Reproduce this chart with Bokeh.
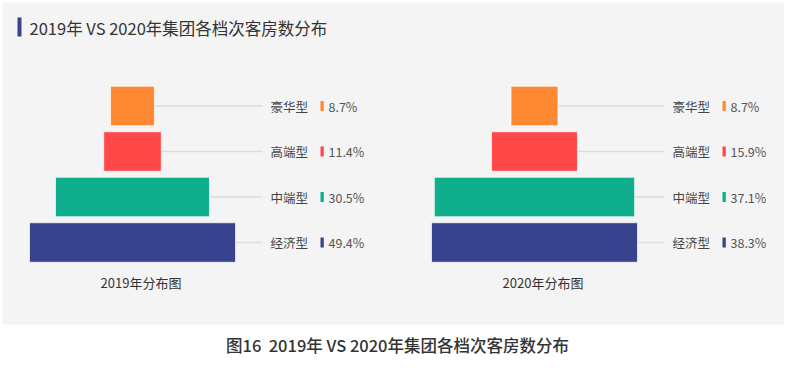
from bokeh.plotting import figure
from bokeh.models import Range1d
from bokeh.core.properties import value
from bokeh.embed import file_html
from bokeh.resources import INLINE

# ---- data ----
categories = ["豪华型", "高端型", "中端型", "经济型"]
share_2019 = [8.7, 11.4, 30.5, 49.4]
share_2020 = [8.7, 15.9, 37.1, 38.3]
colors = ["#FF8832", "#FF4848", "#0FAF8D", "#39428C"]
panel_titles = ["2019年分布图", "2020年分布图"]
chart_title = "2019年 VS 2020年集团各档次客房数分布"
caption = "图16\u00a0 2019年 VS 2020年集团各档次客房数分布"

FONT = value("Noto Sans CJK SC")
FONT_MED = value("Noto Sans CJK SC Medium, Noto Sans CJK SC")

W, H = 784, 358
p = figure(width=W, height=H, output_backend="svg", toolbar_location=None,
           x_range=Range1d(0, W), y_range=Range1d(H, 0),
           min_border=0, x_axis_location=None, y_axis_location=None)
p.grid.visible = False
p.outline_line_color = None
p.background_fill_color = "white"
p.border_fill_color = "white"

# grey panel
p.quad(left=2, right=798, top=2, bottom=324, fill_color="#f4f4f4", line_color=None)

# title
p.quad(left=17, right=21, top=17, bottom=36, fill_color="#39428C", line_color=None)
p.text(x=[29], y=[27], text=[chart_title], text_font=FONT, text_font_size="16.5px",
       text_color="#333333", text_align="left", text_baseline="middle")

# caption
p.text(x=[397], y=[344.5], text=[caption], text_font=FONT_MED, text_font_size="16.5px",
       text_color="#333333", text_align="center", text_baseline="middle")

panels = [
    dict(cx=132, shares=share_2019, k=5.05, title=panel_titles[0]),
    dict(cx=534, shares=share_2020, k=5.4, title=panel_titles[1]),
]
MAXW = 206

for pan in panels:
    cx = pan["cx"]
    ys = [105.5 + i * 45.5 for i in range(len(categories))]
    widths = [min(v * pan["k"], MAXW) for v in pan["shares"]]
    # guide lines
    p.segment(x0=[cx] * len(ys), x1=[cx + 130] * len(ys), y0=ys, y1=ys,
              line_color="#dddddd", line_width=1.5)
    # funnel bars
    p.hbar(y=ys, left=[cx - w / 2 for w in widths], right=[cx + w / 2 for w in widths],
           height=39.5, fill_color=colors, line_color="white", line_alpha=0.7, line_width=1)
    # category labels
    p.text(x=[cx + 138] * len(ys), y=ys, text=categories, text_font=FONT,
           text_font_size="12.5px", text_color="#444444", text_align="left",
           text_baseline="middle")
    # small markers
    p.quad(left=[cx + 188] * len(ys), right=[cx + 191.3] * len(ys),
           top=[y - 5 for y in ys], bottom=[y + 5 for y in ys],
           fill_color=colors, line_color=None)
    # values
    p.text(x=[cx + 196] * len(ys), y=ys, text=[f"{v}%" for v in pan["shares"]],
           text_font=FONT, text_font_size="12.5px", text_color="#555555",
           text_align="left", text_baseline="middle")
    # sub-title
    p.text(x=[cx + 8.5], y=[282], text=[pan["title"]], text_font=FONT,
           text_font_size="13px", text_color="#333333", text_align="center",
           text_baseline="middle")

open("out.html", "w").write(file_html(p, INLINE))
